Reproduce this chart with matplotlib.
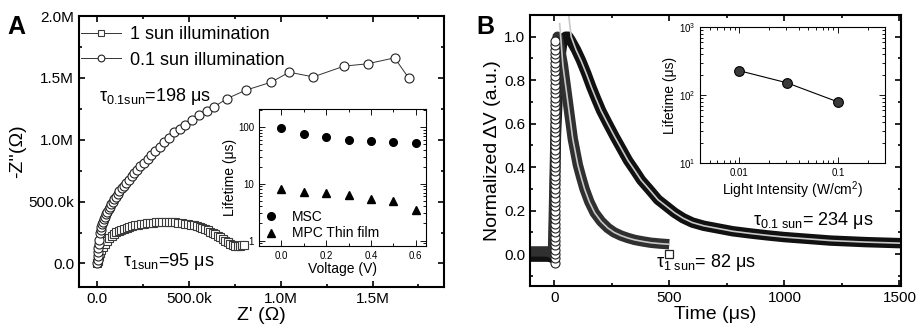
import numpy as np
import matplotlib
matplotlib.use('Agg')
import matplotlib.pyplot as plt
from matplotlib.ticker import FuncFormatter, MultipleLocator, FixedLocator, NullFormatter, LogLocator

plt.rcParams['font.family'] = ['Liberation Sans', 'DejaVu Sans']
plt.rcParams['mathtext.fontset'] = 'custom'
plt.rcParams['mathtext.rm'] = 'Liberation Sans'
plt.rcParams['mathtext.it'] = 'Liberation Sans:italic'
plt.rcParams['mathtext.default'] = 'regular'

# ---- panel A : Nyquist plot (ohm) ----
sun1_zre = [0, 2e3, 5e3, 9e3, 13e3, 22e3, 31e3, 42e3, 53e3, 66e3, 77e3, 92e3, 104e3, 118e3, 131e3,
            145e3, 159e3, 175e3, 190e3, 206e3, 221e3, 238e3, 254e3, 270e3, 286e3, 303e3, 319e3,
            337e3, 354e3, 372e3, 389e3, 406e3, 423e3, 442e3, 460e3, 477e3, 493e3, 510e3, 526e3,
            541e3, 557e3, 573e3, 588e3, 602e3, 615e3, 628e3, 642e3, 656e3, 670e3, 684e3, 697e3,
            710e3, 724e3, 738e3, 752e3, 765e3, 776e3, 787e3, 797e3]
sun1_zim = [0, 22e3, 45e3, 63e3, 81e3, 110e3, 135e3, 160e3, 184e3, 204e3, 222e3, 238e3, 251e3, 261e3, 270e3,
            280e3, 289e3, 296e3, 303e3, 309e3, 314e3, 318e3, 322e3, 325e3, 327e3, 330e3, 332e3,
            333e3, 335e3, 335e3, 335e3, 334e3, 332e3, 330e3, 327e3, 323e3, 319e3, 314e3, 308e3,
            302e3, 295e3, 286e3, 276e3, 267e3, 257e3, 246e3, 235e3, 223e3, 211e3, 198e3, 184e3,
            170e3, 157e3, 147e3, 141e3, 140e3, 143e3, 146e3, 149e3]

sun01_zre = [0, 1e3, 2e3, 4e3, 5e3, 7e3, 10e3, 15e3, 18e3, 22e3, 26e3, 31e3, 36e3, 42e3, 48e3, 55e3,
             61e3, 68e3, 76e3, 84e3, 93e3, 102e3, 111e3, 120e3, 132e3, 144e3, 158e3, 173e3, 187e3,
             201e3, 217e3, 234e3, 254e3, 274e3, 295e3, 316e3, 340e3, 363e3, 390e3, 418e3, 448e3,
             480e3, 517e3, 555e3, 595e3, 635e3, 706e3, 808e3, 947e3, 1046e3, 1177e3, 1345e3, 1473e3,
             1620e3, 1697e3]
sun01_zim = [0, 30e3, 60e3, 95e3, 122e3, 155e3, 189e3, 243e3, 270e3, 297e3, 318e3, 338e3, 358e3, 378e3, 399e3, 419e3,
             439e3, 459e3, 480e3, 500e3, 520e3, 540e3, 562e3, 584e3, 607e3, 630e3, 654e3, 678e3, 705e3,
             732e3, 759e3, 786e3, 815e3, 843e3, 877e3, 911e3, 945e3, 978e3, 1018e3, 1059e3, 1090e3,
             1122e3, 1160e3, 1197e3, 1231e3, 1265e3, 1332e3, 1400e3, 1465e3, 1546e3, 1508e3, 1595e3, 1614e3,
             1662e3, 1500e3]

# inset A : lifetime vs voltage
volt = [0.0, 0.1, 0.2, 0.3, 0.4, 0.5, 0.6]
life_msc = [97, 76, 68, 60, 57, 56, 53]
life_mpc = [8.1, 7.3, 6.9, 6.4, 5.4, 4.9, 3.4]

# ---- panel B : photovoltage decay ----
sun01_t = [-105, -60, -20, -3, 8, 20, 35, 50, 62, 74, 95, 117, 140, 161, 182, 204, 233, 263, 292,
           321, 350, 378, 415, 451, 487, 523, 560, 600, 650, 700, 775, 850, 925, 1000, 1100, 1200,
           1350, 1505]
sun01_v = [-0.012, -0.012, -0.012, -0.02, 0.55, 0.85, 0.97, 1.0, 1.0, 0.98, 0.94, 0.89, 0.83, 0.77,
           0.715, 0.66, 0.60, 0.54, 0.485, 0.43, 0.385, 0.34, 0.295, 0.25, 0.22, 0.19, 0.165, 0.145,
           0.13, 0.12, 0.105, 0.095, 0.086, 0.078, 0.07, 0.062, 0.055, 0.05]
fit01_t = [61, 74, 95, 117, 140, 161, 182, 204, 233, 263, 292, 321, 350, 378, 415, 451, 487, 523,
           560, 600, 650, 700, 775, 850, 925, 1000, 1100, 1200, 1350, 1505]
fit01_v = [1.12, 1.0, 0.94, 0.89, 0.83, 0.77, 0.715, 0.66, 0.60, 0.54, 0.485, 0.43, 0.385, 0.34,
           0.295, 0.25, 0.22, 0.19, 0.165, 0.145, 0.13, 0.12, 0.105, 0.095, 0.086, 0.078, 0.07,
           0.062, 0.055, 0.05]

sun1_t = [-105, -60, -20, -5, 15, 26, 38, 52, 67, 81, 92, 103, 117, 132, 153, 176, 204, 233, 260,
          290, 320, 350, 385, 420, 460, 500]
sun1_v = [0.012, 0.012, 0.012, 0.0, 1.0, 0.94, 0.87, 0.76, 0.64, 0.53, 0.47, 0.41, 0.355, 0.30,
          0.24, 0.19, 0.15, 0.12, 0.10, 0.085, 0.074, 0.065, 0.058, 0.052, 0.048, 0.045]
fit1_t = [24, 38, 52, 67, 81, 92, 103, 117, 132, 153, 176, 204, 233, 260, 290, 320, 350, 385, 420,
          460, 500]
fit1_v = [1.06, 0.87, 0.76, 0.64, 0.53, 0.47, 0.41, 0.355, 0.30, 0.24, 0.19, 0.15, 0.12, 0.10,
          0.085, 0.074, 0.065, 0.058, 0.052, 0.048, 0.045]

rise_t = 3
rise_v = [-0.04, -0.02, 0.0, 0.02, 0.04, 0.06, 0.08, 0.10, 0.12, 0.14, 0.16, 0.18, 0.20, 0.22,
          0.24, 0.26, 0.28, 0.30, 0.32, 0.34, 0.36, 0.38, 0.40, 0.42, 0.44, 0.46, 0.48, 0.50,
          0.52, 0.54, 0.56, 0.58, 0.60, 0.62, 0.64, 0.66, 0.68, 0.70, 0.72, 0.74, 0.76, 0.78,
          0.80, 0.82, 0.84, 0.86, 0.88, 0.90, 0.92, 0.94, 0.96, 0.98]
end_t, end_v = 500, 0.0

# inset B : lifetime vs light intensity
intensity = [0.01, 0.0303, 0.1]
life_int = [230, 153, 80]


def zfmt(v, pos):
    if abs(v) < 1:
        return '0.0'
    if abs(v) >= 1e6:
        return '%.1fM' % (v / 1e6)
    return '%.1fk' % (v / 1e3)


def style(ax, lw=1.5, size=11):
    for s in ax.spines.values():
        s.set_linewidth(lw)
    ax.tick_params(which='both', direction='in', top=True, right=True, labelsize=size, width=lw * 0.8)
    ax.tick_params(which='major', length=4)
    ax.tick_params(which='minor', length=2)


fig = plt.figure(figsize=(9.18, 3.31), dpi=100)

# ------------------------- A -------------------------
axA = fig.add_axes([0.0861, 0.1329, 0.3976, 0.8187])
axA.plot(sun1_zre, sun1_zim, '-s', color='#333333', lw=0.7, ms=5.2, mfc='white', mec='#3a3a3a',
         mew=0.8, label='1 sun illumination')
axA.plot(sun01_zre, sun01_zim, '-o', color='#333333', lw=0.7, ms=6.5, mfc='white', mec='#222222',
         mew=0.8, label='0.1 sun illumination')
axA.set_xlim(-1.0e5, 1.89e6)
axA.set_ylim(-1.9e5, 2.0e6)
axA.xaxis.set_major_locator(MultipleLocator(5e5))
axA.xaxis.set_minor_locator(MultipleLocator(2.5e5))
axA.yaxis.set_major_locator(MultipleLocator(5e5))
axA.yaxis.set_minor_locator(MultipleLocator(2.5e5))
axA.xaxis.set_major_formatter(FuncFormatter(zfmt))
axA.yaxis.set_major_formatter(FuncFormatter(zfmt))
style(axA)
axA.set_xlabel("Z' (Ω)", fontsize=14, labelpad=1)
axA.set_ylabel("-Z''(Ω)", fontsize=14, labelpad=2)
axA.legend(loc='upper left', bbox_to_anchor=(-0.005, 0.975), frameon=False, fontsize=13,
           handlelength=2.2, markerscale=0.75, borderaxespad=0.0, handletextpad=0.5,
           labelspacing=0.45, borderpad=0.2)
axA.text(1.0e4, 1.31e6, r'$\tau_{0.1sun}$=198 μs', fontsize=13, va='baseline')
axA.text(1.37e5, -2.2e4, r'$\tau_{1sun}$=95 μs', fontsize=13, va='baseline')

insA = fig.add_axes([0.2821, 0.2568, 0.1819, 0.4139])
insA.plot(volt, life_msc, 'o', color='black', ms=5.5, label='MSC')
insA.plot(volt, life_mpc, '^', color='black', ms=5.5, label='MPC Thin film')
insA.set_yscale('log')
insA.set_xlim(-0.1, 0.645)
insA.set_ylim(0.8, 210)
insA.xaxis.set_major_locator(MultipleLocator(0.2))
insA.xaxis.set_minor_locator(MultipleLocator(0.1))
insA.yaxis.set_major_locator(FixedLocator([1, 10, 100]))
insA.yaxis.set_major_formatter(FuncFormatter(lambda v, p: '%d' % v))
insA.yaxis.set_minor_formatter(NullFormatter())
style(insA, lw=0.8, size=7)
insA.set_xlabel('Voltage (V)', fontsize=10, labelpad=1)
insA.set_ylabel('Lifetime (μs)', fontsize=10, labelpad=1)
insA.legend(loc='lower left', frameon=False, fontsize=10, handlelength=1.0, handletextpad=1.0,
            labelspacing=0.2, borderaxespad=0.2, borderpad=0.2)

# ------------------------- B -------------------------
axB = fig.add_axes([0.5773, 0.136, 0.4038, 0.8187])
axB.plot(sun01_t, sun01_v, '-', color='#111111', lw=7.5, solid_capstyle='butt', solid_joinstyle='round')
axB.plot(sun1_t, sun1_v, '-', color='#303030', lw=7.5, solid_capstyle='butt', solid_joinstyle='round')
axB.plot([rise_t] * len(rise_v), rise_v, 'o', ls='none', ms=6.5, mfc='white', mec='#222222', mew=0.8)
axB.plot(fit01_t, fit01_v, '-', color='#c8c8c8', lw=1.2)
axB.plot(fit1_t, fit1_v, '-', color='#c8c8c8', lw=1.2)
axB.plot([end_t], [end_v], 's', ms=6, mfc='white', mec='#222222', mew=0.9)
axB.set_xlim(-105, 1505)
axB.set_ylim(-0.147, 1.1)
axB.xaxis.set_major_locator(MultipleLocator(500))
axB.xaxis.set_minor_locator(MultipleLocator(250))
axB.yaxis.set_major_locator(MultipleLocator(0.2))
axB.yaxis.set_minor_locator(MultipleLocator(0.1))
axB.yaxis.set_major_formatter(FuncFormatter(lambda v, p: '%.1f' % v))
style(axB)
axB.set_xlabel('Time (μs)', fontsize=14, labelpad=1)
axB.set_ylabel('Normalized ΔV (a.u.)', fontsize=14, labelpad=2)
axB.text(865, 0.133, r'$\tau_{0.1\ sun}$= 234 μs', fontsize=13, va='baseline')
axB.text(442, -0.058, r'$\tau_{1\ sun}$= 82 μs', fontsize=13, va='baseline')

insB = fig.add_axes([0.7625, 0.5066, 0.2015, 0.4109])
insB.plot(intensity, life_int, '-o', color='black', lw=0.8, ms=7, mfc='#3a3a3a', mec='black', mew=0.8)
insB.set_xscale('log')
insB.set_yscale('log')
insB.set_xlim(0.004, 0.3)
insB.set_ylim(10, 1000)
insB.xaxis.set_major_locator(FixedLocator([0.01, 0.1]))
insB.xaxis.set_major_formatter(FuncFormatter(lambda v, p: '%g' % v))
insB.xaxis.set_minor_formatter(NullFormatter())
insB.yaxis.set_major_locator(LogLocator(base=10))
insB.yaxis.set_minor_formatter(NullFormatter())
style(insB, lw=0.8, size=7)
insB.set_xlabel('Light Intensity (W/cm$^{2}$)', fontsize=10, labelpad=1)
insB.set_ylabel('Lifetime (μs)', fontsize=10, labelpad=1)

fig.text(0.008, 0.955, 'A', fontsize=18, fontweight='bold', va='top')
fig.text(0.519, 0.955, 'B', fontsize=18, fontweight='bold', va='top')

fig.savefig('out.png', dpi=100)
plt.close('all')
